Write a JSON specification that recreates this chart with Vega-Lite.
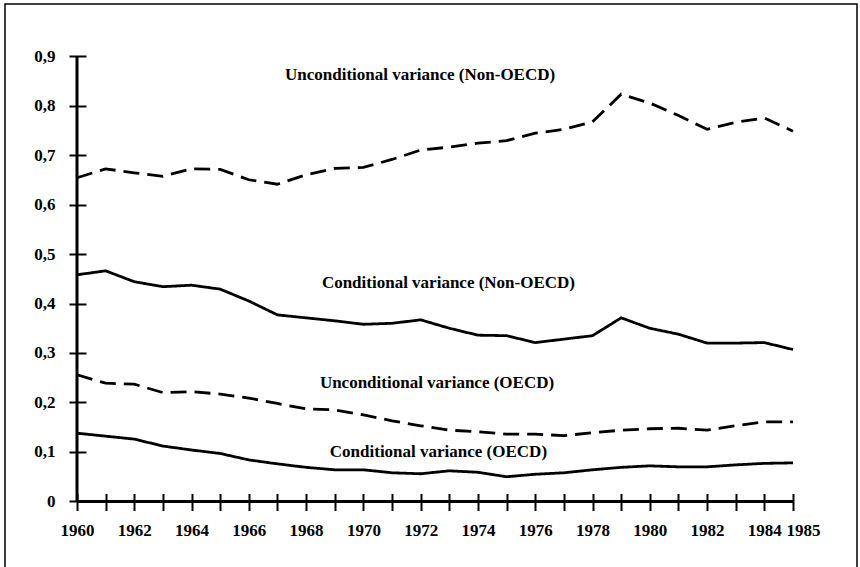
{
  "$schema": "https://vega.github.io/schema/vega-lite/v6.json",
  "width": 852,
  "height": 565,
  "autosize": {"type": "none"},
  "padding": {"left": 5, "top": 4, "right": 3, "bottom": 0},
  "background": "white",
  "config": {
    "view": {"stroke": "black", "strokeWidth": 1.5},
    "axis": {"grid": false, "domain": false, "labelFont": "Liberation Serif", "labelFontWeight": "bold", "labelFontSize": 17, "labelColor": "black", "tickColor": "black", "tickWidth": 2, "tickSize": 17}
  },
  "datasets": {
    "series": [
      {"year": 1960, "value": 0.654, "series": "Unconditional variance (Non-OECD)", "kind": "Unconditional"},
      {"year": 1961, "value": 0.672, "series": "Unconditional variance (Non-OECD)", "kind": "Unconditional"},
      {"year": 1962, "value": 0.664, "series": "Unconditional variance (Non-OECD)", "kind": "Unconditional"},
      {"year": 1963, "value": 0.657, "series": "Unconditional variance (Non-OECD)", "kind": "Unconditional"},
      {"year": 1964, "value": 0.672, "series": "Unconditional variance (Non-OECD)", "kind": "Unconditional"},
      {"year": 1965, "value": 0.671, "series": "Unconditional variance (Non-OECD)", "kind": "Unconditional"},
      {"year": 1966, "value": 0.650, "series": "Unconditional variance (Non-OECD)", "kind": "Unconditional"},
      {"year": 1967, "value": 0.641, "series": "Unconditional variance (Non-OECD)", "kind": "Unconditional"},
      {"year": 1968, "value": 0.660, "series": "Unconditional variance (Non-OECD)", "kind": "Unconditional"},
      {"year": 1969, "value": 0.673, "series": "Unconditional variance (Non-OECD)", "kind": "Unconditional"},
      {"year": 1970, "value": 0.675, "series": "Unconditional variance (Non-OECD)", "kind": "Unconditional"},
      {"year": 1971, "value": 0.691, "series": "Unconditional variance (Non-OECD)", "kind": "Unconditional"},
      {"year": 1972, "value": 0.710, "series": "Unconditional variance (Non-OECD)", "kind": "Unconditional"},
      {"year": 1973, "value": 0.716, "series": "Unconditional variance (Non-OECD)", "kind": "Unconditional"},
      {"year": 1974, "value": 0.724, "series": "Unconditional variance (Non-OECD)", "kind": "Unconditional"},
      {"year": 1975, "value": 0.729, "series": "Unconditional variance (Non-OECD)", "kind": "Unconditional"},
      {"year": 1976, "value": 0.744, "series": "Unconditional variance (Non-OECD)", "kind": "Unconditional"},
      {"year": 1977, "value": 0.752, "series": "Unconditional variance (Non-OECD)", "kind": "Unconditional"},
      {"year": 1978, "value": 0.767, "series": "Unconditional variance (Non-OECD)", "kind": "Unconditional"},
      {"year": 1979, "value": 0.823, "series": "Unconditional variance (Non-OECD)", "kind": "Unconditional"},
      {"year": 1980, "value": 0.805, "series": "Unconditional variance (Non-OECD)", "kind": "Unconditional"},
      {"year": 1981, "value": 0.780, "series": "Unconditional variance (Non-OECD)", "kind": "Unconditional"},
      {"year": 1982, "value": 0.752, "series": "Unconditional variance (Non-OECD)", "kind": "Unconditional"},
      {"year": 1983, "value": 0.766, "series": "Unconditional variance (Non-OECD)", "kind": "Unconditional"},
      {"year": 1984, "value": 0.775, "series": "Unconditional variance (Non-OECD)", "kind": "Unconditional"},
      {"year": 1985, "value": 0.748, "series": "Unconditional variance (Non-OECD)", "kind": "Unconditional"},
      {"year": 1960, "value": 0.458, "series": "Conditional variance (Non-OECD)", "kind": "Conditional"},
      {"year": 1961, "value": 0.466, "series": "Conditional variance (Non-OECD)", "kind": "Conditional"},
      {"year": 1962, "value": 0.444, "series": "Conditional variance (Non-OECD)", "kind": "Conditional"},
      {"year": 1963, "value": 0.434, "series": "Conditional variance (Non-OECD)", "kind": "Conditional"},
      {"year": 1964, "value": 0.437, "series": "Conditional variance (Non-OECD)", "kind": "Conditional"},
      {"year": 1965, "value": 0.429, "series": "Conditional variance (Non-OECD)", "kind": "Conditional"},
      {"year": 1966, "value": 0.405, "series": "Conditional variance (Non-OECD)", "kind": "Conditional"},
      {"year": 1967, "value": 0.377, "series": "Conditional variance (Non-OECD)", "kind": "Conditional"},
      {"year": 1968, "value": 0.371, "series": "Conditional variance (Non-OECD)", "kind": "Conditional"},
      {"year": 1969, "value": 0.365, "series": "Conditional variance (Non-OECD)", "kind": "Conditional"},
      {"year": 1970, "value": 0.358, "series": "Conditional variance (Non-OECD)", "kind": "Conditional"},
      {"year": 1971, "value": 0.360, "series": "Conditional variance (Non-OECD)", "kind": "Conditional"},
      {"year": 1972, "value": 0.367, "series": "Conditional variance (Non-OECD)", "kind": "Conditional"},
      {"year": 1973, "value": 0.350, "series": "Conditional variance (Non-OECD)", "kind": "Conditional"},
      {"year": 1974, "value": 0.336, "series": "Conditional variance (Non-OECD)", "kind": "Conditional"},
      {"year": 1975, "value": 0.335, "series": "Conditional variance (Non-OECD)", "kind": "Conditional"},
      {"year": 1976, "value": 0.321, "series": "Conditional variance (Non-OECD)", "kind": "Conditional"},
      {"year": 1977, "value": 0.328, "series": "Conditional variance (Non-OECD)", "kind": "Conditional"},
      {"year": 1978, "value": 0.335, "series": "Conditional variance (Non-OECD)", "kind": "Conditional"},
      {"year": 1979, "value": 0.371, "series": "Conditional variance (Non-OECD)", "kind": "Conditional"},
      {"year": 1980, "value": 0.350, "series": "Conditional variance (Non-OECD)", "kind": "Conditional"},
      {"year": 1981, "value": 0.338, "series": "Conditional variance (Non-OECD)", "kind": "Conditional"},
      {"year": 1982, "value": 0.320, "series": "Conditional variance (Non-OECD)", "kind": "Conditional"},
      {"year": 1983, "value": 0.320, "series": "Conditional variance (Non-OECD)", "kind": "Conditional"},
      {"year": 1984, "value": 0.321, "series": "Conditional variance (Non-OECD)", "kind": "Conditional"},
      {"year": 1985, "value": 0.307, "series": "Conditional variance (Non-OECD)", "kind": "Conditional"},
      {"year": 1960, "value": 0.256, "series": "Unconditional variance (OECD)", "kind": "Unconditional"},
      {"year": 1961, "value": 0.239, "series": "Unconditional variance (OECD)", "kind": "Unconditional"},
      {"year": 1962, "value": 0.237, "series": "Unconditional variance (OECD)", "kind": "Unconditional"},
      {"year": 1963, "value": 0.220, "series": "Unconditional variance (OECD)", "kind": "Unconditional"},
      {"year": 1964, "value": 0.222, "series": "Unconditional variance (OECD)", "kind": "Unconditional"},
      {"year": 1965, "value": 0.217, "series": "Unconditional variance (OECD)", "kind": "Unconditional"},
      {"year": 1966, "value": 0.209, "series": "Unconditional variance (OECD)", "kind": "Unconditional"},
      {"year": 1967, "value": 0.198, "series": "Unconditional variance (OECD)", "kind": "Unconditional"},
      {"year": 1968, "value": 0.187, "series": "Unconditional variance (OECD)", "kind": "Unconditional"},
      {"year": 1969, "value": 0.185, "series": "Unconditional variance (OECD)", "kind": "Unconditional"},
      {"year": 1970, "value": 0.175, "series": "Unconditional variance (OECD)", "kind": "Unconditional"},
      {"year": 1971, "value": 0.163, "series": "Unconditional variance (OECD)", "kind": "Unconditional"},
      {"year": 1972, "value": 0.153, "series": "Unconditional variance (OECD)", "kind": "Unconditional"},
      {"year": 1973, "value": 0.144, "series": "Unconditional variance (OECD)", "kind": "Unconditional"},
      {"year": 1974, "value": 0.141, "series": "Unconditional variance (OECD)", "kind": "Unconditional"},
      {"year": 1975, "value": 0.136, "series": "Unconditional variance (OECD)", "kind": "Unconditional"},
      {"year": 1976, "value": 0.136, "series": "Unconditional variance (OECD)", "kind": "Unconditional"},
      {"year": 1977, "value": 0.133, "series": "Unconditional variance (OECD)", "kind": "Unconditional"},
      {"year": 1978, "value": 0.139, "series": "Unconditional variance (OECD)", "kind": "Unconditional"},
      {"year": 1979, "value": 0.144, "series": "Unconditional variance (OECD)", "kind": "Unconditional"},
      {"year": 1980, "value": 0.147, "series": "Unconditional variance (OECD)", "kind": "Unconditional"},
      {"year": 1981, "value": 0.148, "series": "Unconditional variance (OECD)", "kind": "Unconditional"},
      {"year": 1982, "value": 0.144, "series": "Unconditional variance (OECD)", "kind": "Unconditional"},
      {"year": 1983, "value": 0.153, "series": "Unconditional variance (OECD)", "kind": "Unconditional"},
      {"year": 1984, "value": 0.161, "series": "Unconditional variance (OECD)", "kind": "Unconditional"},
      {"year": 1985, "value": 0.161, "series": "Unconditional variance (OECD)", "kind": "Unconditional"},
      {"year": 1960, "value": 0.138, "series": "Conditional variance (OECD)", "kind": "Conditional"},
      {"year": 1961, "value": 0.132, "series": "Conditional variance (OECD)", "kind": "Conditional"},
      {"year": 1962, "value": 0.126, "series": "Conditional variance (OECD)", "kind": "Conditional"},
      {"year": 1963, "value": 0.112, "series": "Conditional variance (OECD)", "kind": "Conditional"},
      {"year": 1964, "value": 0.104, "series": "Conditional variance (OECD)", "kind": "Conditional"},
      {"year": 1965, "value": 0.097, "series": "Conditional variance (OECD)", "kind": "Conditional"},
      {"year": 1966, "value": 0.084, "series": "Conditional variance (OECD)", "kind": "Conditional"},
      {"year": 1967, "value": 0.076, "series": "Conditional variance (OECD)", "kind": "Conditional"},
      {"year": 1968, "value": 0.069, "series": "Conditional variance (OECD)", "kind": "Conditional"},
      {"year": 1969, "value": 0.064, "series": "Conditional variance (OECD)", "kind": "Conditional"},
      {"year": 1970, "value": 0.064, "series": "Conditional variance (OECD)", "kind": "Conditional"},
      {"year": 1971, "value": 0.058, "series": "Conditional variance (OECD)", "kind": "Conditional"},
      {"year": 1972, "value": 0.056, "series": "Conditional variance (OECD)", "kind": "Conditional"},
      {"year": 1973, "value": 0.062, "series": "Conditional variance (OECD)", "kind": "Conditional"},
      {"year": 1974, "value": 0.059, "series": "Conditional variance (OECD)", "kind": "Conditional"},
      {"year": 1975, "value": 0.050, "series": "Conditional variance (OECD)", "kind": "Conditional"},
      {"year": 1976, "value": 0.055, "series": "Conditional variance (OECD)", "kind": "Conditional"},
      {"year": 1977, "value": 0.058, "series": "Conditional variance (OECD)", "kind": "Conditional"},
      {"year": 1978, "value": 0.064, "series": "Conditional variance (OECD)", "kind": "Conditional"},
      {"year": 1979, "value": 0.069, "series": "Conditional variance (OECD)", "kind": "Conditional"},
      {"year": 1980, "value": 0.072, "series": "Conditional variance (OECD)", "kind": "Conditional"},
      {"year": 1981, "value": 0.070, "series": "Conditional variance (OECD)", "kind": "Conditional"},
      {"year": 1982, "value": 0.070, "series": "Conditional variance (OECD)", "kind": "Conditional"},
      {"year": 1983, "value": 0.074, "series": "Conditional variance (OECD)", "kind": "Conditional"},
      {"year": 1984, "value": 0.077, "series": "Conditional variance (OECD)", "kind": "Conditional"},
      {"year": 1985, "value": 0.078, "series": "Conditional variance (OECD)", "kind": "Conditional"}
    ],
    "labels": [
      {"label": "Unconditional variance (Non-OECD)", "year": 1971.98, "value": 0.862},
      {"label": "Conditional variance (Non-OECD)", "year": 1972.97, "value": 0.441},
      {"label": "Unconditional variance (OECD)", "year": 1972.57, "value": 0.239},
      {"label": "Conditional variance (OECD)", "year": 1972.62, "value": 0.099}
    ],
    "frame": [
      {"part": "vertical", "year": 1960, "value": 0.9},
      {"part": "vertical", "year": 1960, "value": 0},
      {"part": "horizontal", "year": 1960, "value": 0},
      {"part": "horizontal", "year": 1985, "value": 0}
    ]
  },
  "encoding": {
    "x": {
      "field": "year", "type": "quantitative",
      "scale": {"domain": [1957.486, 1987.235], "nice": false, "zero": false},
      "axis": {
        "title": null,
        "values": [1960, 1961, 1962, 1963, 1964, 1965, 1966, 1967, 1968, 1969, 1970, 1971, 1972, 1973, 1974, 1975, 1976, 1977, 1978, 1979, 1980, 1981, 1982, 1983, 1984, 1985],
        "format": "d",
        "labelExpr": "(datum.value % 2 == 0 || datum.value == 1985) ? datum.label : ''",
        "offset": -75.5,
        "labelPadding": 12,
        "labelOffset": {"condition": {"test": "datum.value == 1985", "value": 10}, "value": 0},
        "labelFlush": false,
        "labelOverlap": false,
        "labelBound": false
      }
    },
    "y": {
      "field": "value", "type": "quantitative",
      "scale": {"domain": [-0.1364, 1.0051], "nice": false, "zero": false},
      "axis": {
        "title": null,
        "values": [0, 0.1, 0.2, 0.3, 0.4, 0.5, 0.6, 0.7, 0.8, 0.9],
        "labelExpr": "datum.value == 0 ? '0' : replace(format(datum.value, '.1f'), '.', ',')",
        "offset": -81,
        "labelPadding": 14,
        "labelFlush": false,
        "labelOverlap": false,
        "labelBound": false
      }
    }
  },
  "layer": [
    {
      "data": {"name": "series"},
      "mark": {"type": "line", "color": "black", "strokeWidth": 2.8},
      "encoding": {
        "detail": {"field": "series"},
        "strokeDash": {"field": "kind", "type": "nominal", "scale": {"domain": ["Unconditional", "Conditional"], "range": [[16, 8], [1, 0]]}, "legend": null}
      }
    },
    {
      "data": {"name": "frame"},
      "mark": {"type": "line", "color": "black", "strokeWidth": 3},
      "encoding": {
        "detail": {"field": "part"}
      }
    },
    {
      "data": {"values": [{}]},
      "mark": {"type": "rule", "color": "black", "strokeWidth": 3},
      "encoding": {
        "x": {"datum": 1960, "type": "quantitative"},
        "y": {"datum": 0, "type": "quantitative"},
        "y2": {"datum": 0.9}
      }
    },
    {
      "data": {"name": "labels"},
      "mark": {"type": "text", "font": "Liberation Serif", "fontWeight": "bold", "fontSize": 17, "color": "black", "align": "center", "baseline": "middle"},
      "encoding": {
        "text": {"field": "label"}
      }
    }
  ]
}
